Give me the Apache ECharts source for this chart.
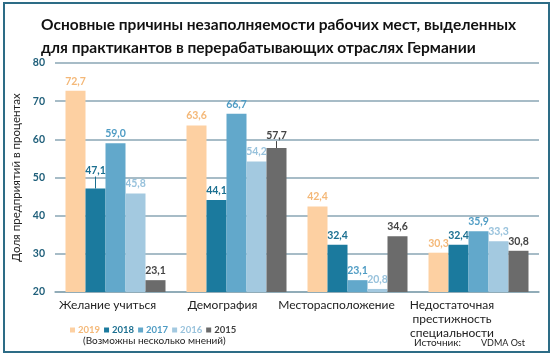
<!DOCTYPE html>
<html><head><meta charset="utf-8">
<script src="https://cdn.jsdelivr.net/npm/echarts@6/dist/echarts.min.js"></script>
<style>html,body{margin:0;padding:0;background:#fff}#c{width:555px;height:357px}</style>
</head><body><div id="c"></div>
<script>
var categories = ['Желание учиться', 'Демография', 'Месторасположение', 'Недостаточная\nпрестижность\nспециальности'];
var years = ['2019', '2018', '2017', '2016', '2015'];
var v2019 = [72.7, 63.6, 42.4, 30.3];
var v2018 = [47.1, 44.1, 32.4, 32.4];
var v2017 = [59.0, 66.7, 23.1, 35.9];
var v2016 = [45.8, 54.2, 20.8, 33.3];
var v2015 = [23.1, 57.7, 34.6, 30.8];
var yTicks = [20, 30, 40, 50, 60, 70, 80];

var values = [v2019, v2018, v2017, v2016, v2015];
var colors = ['#fdd0a2', '#1b7a9e', '#62a8cb', '#a3c9e0', '#6b6b6b'];
var labelColors = ['#f4b878', '#1b6f90', '#4f9cc4', '#98c2dc', '#444444'];
var catPad = [[0,16,0,0],[0,28,0,0],[0,42,0,0],[0,53,0,0]];
// labels with a leader line in the original: [seriesIndex, dataIndex, dy]
var leaders = [[1, 0, -8], [4, 1, -3]];
var F = 'Lato, "Open Sans", sans-serif';

function leaderFor(si, di) {
  for (var k = 0; k < leaders.length; k++) if (leaders[k][0] === si && leaders[k][1] === di) return leaders[k];
  return null;
}

var chart = echarts.init(document.getElementById('c'));
var series = years.map(function (y, i) {
  return {
    name: y, type: 'bar', barWidth: 20, barGap: '0%',
    data: values[i].map(function (v, j) {
      return leaderFor(i, j) ? { value: v, labelLine: { show: true, lineStyle: { color: labelColors[i], width: 1 } } } : v;
    }),
    itemStyle: { color: colors[i] },
    label: { show: true, position: 'top', distance: 4, color: labelColors[i], fontFamily: F, fontSize: 10.5, fontWeight: 'bold',
      formatter: function (p) { return p.value.toFixed(1).replace('.', ','); } },
    labelLayout: function (p) { var l = leaderFor(p.seriesIndex, p.dataIndex); return l ? { dy: l[2] } : {}; }
  };
});
chart.setOption({
  animation: false,
  textStyle: { fontFamily: F },
  title: {
    text: 'Основные причины незаполняемости рабочих мест, выделенных\nдля практикантов в перерабатывающих отраслях Германии',
    left: 36, top: 8,
    textStyle: { fontFamily: F, fontSize: 15.5, fontWeight: 'bold', color: '#111', lineHeight: 23 }
  },
  legend: {
    left: 65, top: 320, itemWidth: 5, itemHeight: 5, itemGap: 4, icon: 'rect',
    data: years.map(function (y, i) { return { name: y, textStyle: { color: labelColors[i], fontWeight: 'bold', fontSize: 9.5 } }; }),
    textStyle: { fontFamily: F, padding: [0, 0, 0, -2] }
  },
  grid: { left: 55, right: 16, top: 63, bottom: 65 },
  xAxis: {
    type: 'category',
    data: categories.map(function (c, i) { return { value: c, textStyle: { padding: catPad[i] } }; }),
    axisLine: { show: true, lineStyle: { color: '#8aa6b4', width: 1.5 } },
    axisTick: { show: false },
    axisLabel: { color: '#222', fontFamily: F, fontSize: 12, margin: 6, lineHeight: 14, interval: 0 }
  },
  yAxis: {
    type: 'value', min: 20, max: 80, interval: 10,
    name: 'Доля предприятий в процентах', nameLocation: 'middle', nameGap: 24,
    nameTextStyle: { color: '#222', fontFamily: F, fontSize: 11.5 },
    axisLabel: { color: '#1f5f7a', fontWeight: 'bold', fontSize: 10.5, fontFamily: F, margin: 10 },
    splitLine: { lineStyle: { color: '#8aa6b4', width: 1.5 } },
    axisLine: { show: false }, axisTick: { show: false }
  },
  series: series,
  graphic: [
    { type: 'rect', shape: { x: 4, y: 3, width: 545, height: 349 }, style: { fill: null, stroke: '#2d6c86', lineWidth: 2 }, silent: true },
    { type: 'text', left: 83, top: 336, style: { text: '(Возможны несколько мнений)', font: '10px ' + F, fill: '#222' } },
    { type: 'text', left: 414, top: 338, style: { text: 'Источник:', font: '10px ' + F, fill: '#222' } },
    { type: 'text', left: 481, top: 339, style: { text: 'VDMA Ost', font: '9px ' + F, fill: '#222' } }
  ]
});
</script></body></html>
